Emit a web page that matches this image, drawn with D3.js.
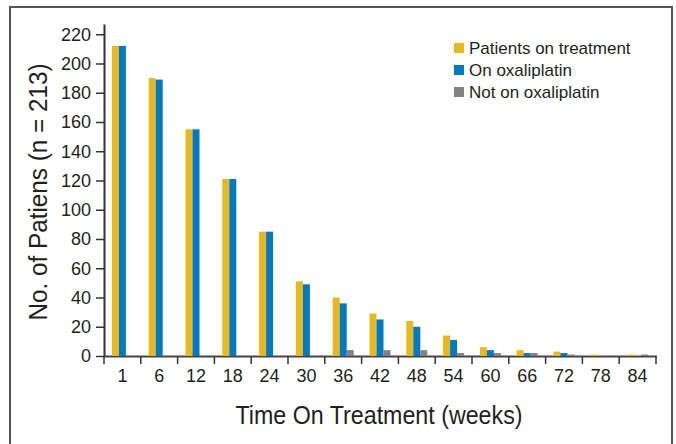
<!DOCTYPE html>
<html>
<head>
<meta charset="utf-8">
<script src="https://cdn.jsdelivr.net/npm/d3@7"></script>
<style>
  body { margin: 0; background: #fff; }
  text { fill: #231f20; font-family: "Liberation Sans", Arial, Helvetica, sans-serif; }
</style>
</head>
<body>
<div id="chart"></div>
<script>
// weeks on the x axis
var weeks = ["1", "6", "12", "18", "24", "30", "36", "42", "48", "54", "60", "66", "72", "78", "84"];

// series values
var onTreatment = [212, 190, 155, 121, 85, 51, 40, 29, 24, 14, 6, 4, 3, 1, 1];
var onOxaliplatin = [212, 189, 155, 121, 85, 49, 36, 25, 20, 11, 4, 2, 2, 0, 0];
var notOnOxaliplatin = [0, 0, 0, 0, 0, 0, 4, 4, 4, 2, 2, 2, 1, 0, 1];

var seriesNames = ["Patients on treatment", "On oxaliplatin", "Not on oxaliplatin"];
var seriesColors = ["#e8b821", "#0079c1", "#808285"];
var yTicks = [0, 20, 40, 60, 80, 100, 120, 140, 160, 180, 200, 220];

var width = 676;
var height = 444;
var plot = {left: 104, right: 656, top: 24, bottom: 356};

var svg = d3.select("#chart")
    .append("svg")
    .attr("width", width)
    .attr("height", height);

// outer frame
svg.append("rect")
    .attr("x", 10)
    .attr("y", 7)
    .attr("width", 662)
    .attr("height", 470)
    .attr("fill", "none")
    .attr("stroke", "#555")
    .attr("stroke-width", 2);

var xScale = d3.scaleBand()
    .domain(weeks)
    .range([plot.left, plot.right])
    .padding(0);

var subScale = d3.scaleBand()
    .domain(seriesNames)
    .range([0, 21]);

var yScale = d3.scaleLinear()
    .domain([0, 227])
    .range([plot.bottom, plot.top]);

var series = [onTreatment, onOxaliplatin, notOnOxaliplatin];
var offset = (xScale.bandwidth() - 21) / 2;

// y axis
var yAxis = svg.append("g")
    .attr("class", "y-axis")
    .attr("transform", "translate(" + plot.left + ",0)")
    .call(d3.axisLeft(yScale).tickValues(yTicks).tickSize(8).tickSizeOuter(0).tickPadding(5));
yAxis.select(".domain").attr("stroke", "#333").attr("stroke-width", 2);
yAxis.selectAll(".tick line").attr("stroke", "#333").attr("stroke-width", 1.5);
yAxis.selectAll(".tick text")
    .attr("fill", "#231f20")
    .style("font-size", "18px")
    .style("font-family", "'Liberation Sans', Arial, sans-serif");

// x axis labels (ticks at band edges are drawn separately)
var xAxis = svg.append("g")
    .attr("class", "x-axis")
    .attr("transform", "translate(0," + plot.bottom + ")")
    .call(d3.axisBottom(xScale).tickSize(0).tickPadding(13));
xAxis.select(".domain").remove();
xAxis.selectAll(".tick text")
    .attr("fill", "#231f20")
    .style("font-size", "18px")
    .style("font-family", "'Liberation Sans', Arial, sans-serif");

var edges = weeks.map(function(w) { return xScale(w); }).concat([plot.right]);
svg.append("g")
    .selectAll("line")
    .data(edges)
    .enter()
    .append("line")
    .attr("x1", function(d) { return d; })
    .attr("x2", function(d) { return d; })
    .attr("y1", plot.bottom)
    .attr("y2", plot.bottom + 8)
    .attr("stroke", "#333")
    .attr("stroke-width", 1.5);

svg.append("line")
    .attr("x1", plot.left)
    .attr("x2", plot.right + 1)
    .attr("y1", plot.bottom + 0.5)
    .attr("y2", plot.bottom + 0.5)
    .attr("stroke", "#444")
    .attr("stroke-width", 2);

// bars
series.forEach(function(values, s) {
    svg.append("g")
        .selectAll("rect")
        .data(values)
        .enter()
        .append("rect")
        .attr("x", function(d, i) { return xScale(weeks[i]) + offset + subScale(seriesNames[s]); })
        .attr("y", function(d) { return yScale(d); })
        .attr("width", subScale.bandwidth())
        .attr("height", function(d) { return yScale(0) - yScale(d); })
        .attr("fill", seriesColors[s]);
});

// axis titles
svg.append("text")
    .attr("transform", "translate(47,192) rotate(-90)")
    .attr("text-anchor", "middle")
    .attr("textLength", 257)
    .attr("lengthAdjust", "spacingAndGlyphs")
    .style("font-size", "25px")
    .text("No. of Patiens (n = 213)");

svg.append("text")
    .attr("x", 379)
    .attr("y", 424)
    .attr("text-anchor", "middle")
    .attr("textLength", 287)
    .attr("lengthAdjust", "spacingAndGlyphs")
    .style("font-size", "26px")
    .text("Time On Treatment (weeks)");

// legend
var legend = svg.append("g")
    .selectAll("g")
    .data(seriesNames)
    .enter()
    .append("g")
    .attr("transform", function(d, i) { return "translate(454," + (43 + i * 22) + ")"; });

legend.append("rect")
    .attr("width", 10)
    .attr("height", 10)
    .attr("fill", function(d, i) { return seriesColors[i]; });

legend.append("text")
    .attr("x", 15)
    .attr("y", 11)
    .style("font-size", "17px")
    .text(function(d) { return d; });
</script>
</body>
</html>
